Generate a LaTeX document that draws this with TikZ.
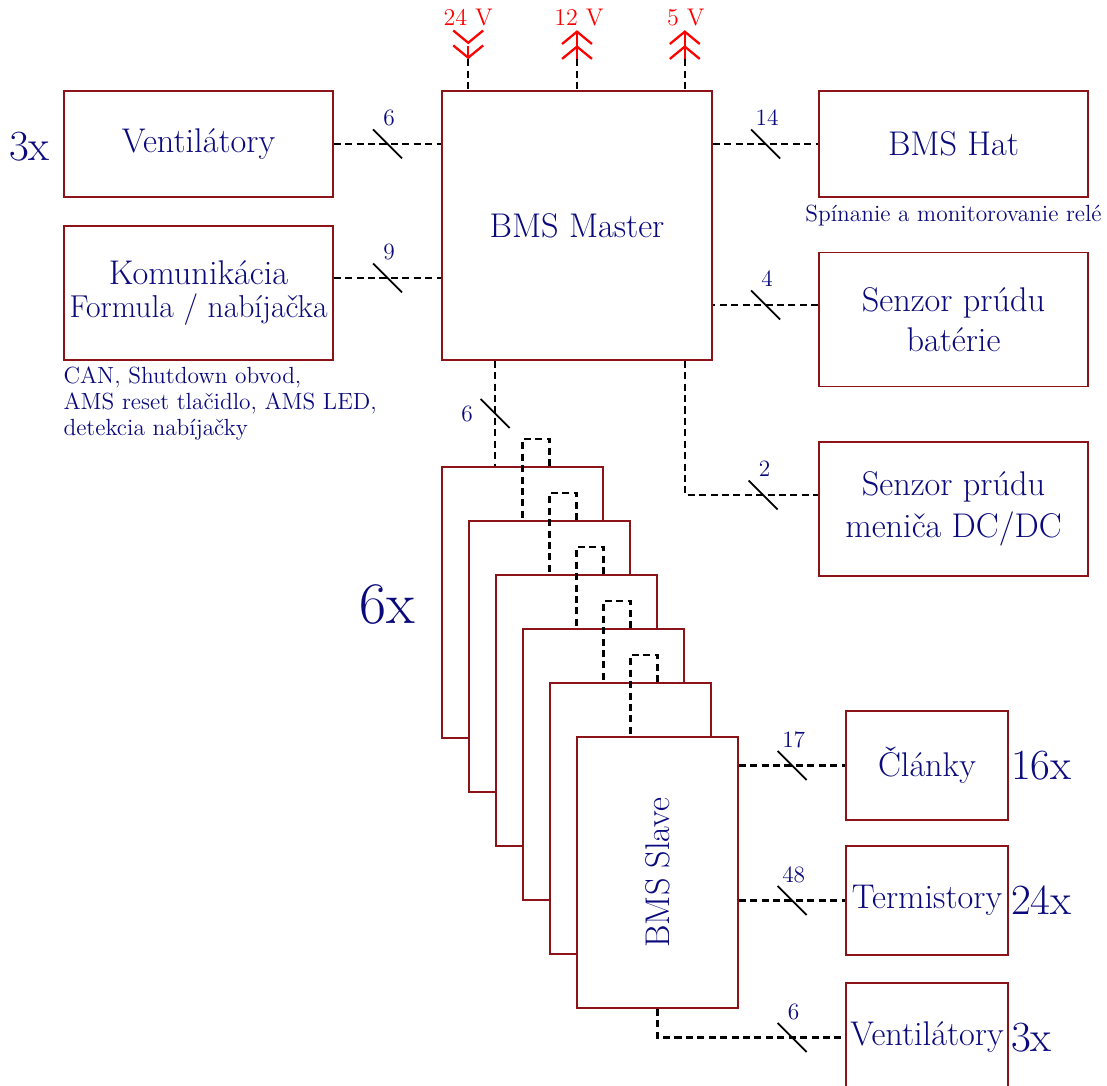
\documentclass[tikz,border=0pt]{standalone}
\usepackage{tikz}
\usetikzlibrary{calc,arrows.meta}
\definecolor{boxred}{RGB}{140,20,25}
\definecolor{txtblue}{RGB}{10,10,125}

\begin{document}
\begin{tikzpicture}[
    boxtext/.style={text=txtblue, align=center, font=\fontsize{19.5}{23}\selectfont},
    blok/.style={boxtext, draw=boxred, line width=0.9pt, fill=white, inner sep=0pt},
    bigblok/.style={blok, minimum width=5.38cm, minimum height=2.68cm},
    smallblok/.style={blok, minimum width=3.24cm, minimum height=2.18cm},
    bus/.style={line width=1.2pt, dash pattern=on 4pt off 2.5pt},
    busslash/.style={line width=1pt},
    buslabel/.style={text=txtblue, font=\fontsize{13.3}{16}\selectfont, inner sep=0pt},
    note/.style={text=txtblue, font=\fontsize{13.3}{14.8}\selectfont, align=left, inner sep=0pt},
    count/.style={text=txtblue, font=\fontsize{24.5}{28}\selectfont, inner sep=0pt},
    volt/.style={text=red, font=\fontsize{13.7}{16}\selectfont, inner sep=0pt},
    supply/.style={draw=red, line width=1.3pt,
      -{Straight Barb[length=7pt,width=17pt] Straight Barb[length=7pt,width=17pt]}},
    busmark/.pic={\draw[busslash] (-0.29,0.29) -- (0.29,-0.29);
      \node[buslabel] at (0.03,0.52) {#1};},
    vbusmark/.pic={\draw[busslash] (-0.29,0.29) -- (0.29,-0.29);
      \node[buslabel] at (-0.56,0) {#1};},
  ]
  \useasboundingbox (0,0) rectangle (22.14,-21.72);

  % master a periferie
  \node[blok, minimum width=5.38cm, minimum height=2.12cm] (vent) at (3.97,-2.88) {Ventilátory};
  \node[bigblok] (komm) at (3.97,-5.86)
    {Komunikácia\\[-4pt] {\fontsize{18}{21}\selectfont Formula / nabíjačka}};
  \node[blok, minimum width=5.4cm, minimum height=5.38cm] (master) at (11.54,-4.51) {BMS Master};
  \node[blok, minimum width=5.38cm, minimum height=2.12cm] (hat) at (19.07,-2.88) {BMS Hat};
  \node[bigblok] (batt) at (19.07,-6.39) {Senzor prúdu\\ batérie};
  \node[bigblok] (dcdc) at (19.07,-10.18) {Senzor prúdu\\[1pt] meniča DC/DC};

  \node[note, anchor=north west] at ($(komm.south west)+(0,-0.12)$)
    {CAN, Shutdown obvod,\\ AMS reset tlačidlo, AMS LED,\\ detekcia nabíjačky};
  \node[note, anchor=north] at ($(hat.south)+(0,-0.14)$) {Spínanie a monitorovanie relé};
  \node[count, anchor=east] at ($(vent.west)+(-0.26,-0.06)$) {3x};

  % slave moduly
  \foreach \i in {0,...,5}
    \node[blok, minimum width=3.22cm, minimum height=5.42cm] (slave\i)
      at ({10.45+0.54*\i},{-12.05-1.08*\i}) {};
  \node[boxtext, rotate=90] at (slave5) {BMS Slave};
  \node[count, font=\fontsize{33.5}{38}\selectfont] at (7.74,-12.1) {6x};

  \node[smallblok] (clanky) at (18.54,-15.31) {Články};
  \node[smallblok] (term) at (18.54,-18.01) {Termistory};
  \node[smallblok] (vent2) at (18.54,-20.75) {Ventilátory};
  \node[count, anchor=west] at ($(clanky.east)+(0.04,0)$) {16x};
  \node[count, anchor=west] at ($(term.east)+(0.04,0)$) {24x};
  \node[count, anchor=west] at ($(vent2.east)+(0.04,0)$) {3x};

  % zbernice
  \draw[bus] (vent.east) -- coordinate[pos=.5] (m1) (vent.east -| master.west);
  \pic at (m1) {busmark=6};
  \draw[bus] ($(komm.east)+(0,0.3)$) coordinate (k1) -- coordinate[pos=.5] (m2) (k1 -| master.west);
  \pic at (m2) {busmark=9};
  \draw[bus] (hat.west -| master.east) -- coordinate[pos=.5] (m3) (hat.west);
  \pic at (m3) {busmark=14};
  \draw[bus] ($(batt.west)+(0,0.29)$) coordinate (b1) -- coordinate[pos=.5] (m4) (b1 -| master.east);
  \pic at (m4) {busmark=4};
  \draw[bus] ($(master.south east)+(-0.56,0)$) |- ($(dcdc.west)+(0,0.28)$) coordinate (d1);
  \pic at ($(d1)+(-1.1,0)$) {busmark=2};

  \draw[bus] ($(master.south west)+(1.08,0)$) -- coordinate[pos=.5] (m5) ($(slave0.north west)+(1.08,0)$);
  \pic at (m5) {vbusmark=6};
  \foreach \i [count=\j from 1] in {0,...,4}
    \draw[bus] ($(slave\i.north)+(0.54,0)$) -- ++(0,0.54) -| (slave\i.north |- slave\j.north);

  \draw[bus] (clanky.west -| slave5.east) -- (clanky.west);
  \pic at ($(clanky.west)+(-1.06,0)$) {busmark=17};
  \draw[bus] (term.west -| slave5.east) -- (term.west);
  \pic at ($(term.west)+(-1.06,0)$) {busmark=48};
  \draw[bus] (slave5.south) |- (vent2.west);
  \pic at ($(vent2.west)+(-1.06,0)$) {busmark=6};

  % napajanie
  \coordinate (p24) at ($(master.north west)+(0.54,0.62)$);
  \coordinate (p12) at ($(master.north)+(0,0.62)$);
  \coordinate (p5) at ($(master.north east)+(-0.56,0.62)$);
  \foreach \p in {p24,p12,p5}
    \draw[bus] (\p) -- (\p |- master.north);
  \draw[supply] ($(p24)+(0,0.26)$) -- (p24);
  \draw[supply] (p12) -- ++(0,0.58);
  \draw[supply] (p5) -- ++(0,0.58);
  \node[volt] at ($(p24)+(0,0.84)$) {24 V};
  \node[volt] at ($(p12)+(0.04,0.84)$) {12 V};
  \node[volt] at ($(p5)+(0.02,0.84)$) {5 V};
\end{tikzpicture}
\end{document}
